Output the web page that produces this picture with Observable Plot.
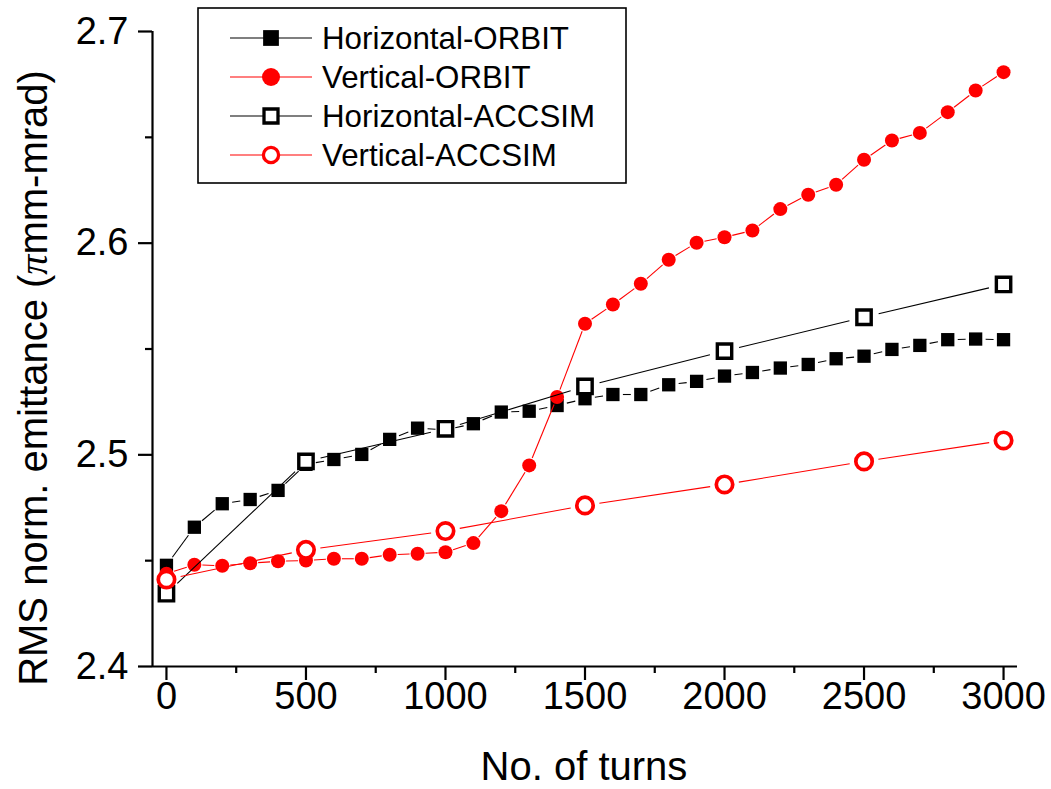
<!DOCTYPE html>
<html><head><meta charset="utf-8">
<script src="https://cdn.jsdelivr.net/npm/d3@7"></script>
<script src="https://cdn.jsdelivr.net/npm/@observablehq/plot@0.6"></script>
<style>body{margin:0;background:#fff}</style>
</head><body><div id="chart"></div>
<script>
// ---- data ----
const turnsORBIT = [0,100,200,300,400,500,600,700,800,900,1000,1100,1200,1300,1400,1500,1600,1700,1800,1900,2000,2100,2200,2300,2400,2500,2600,2700,2800,2900,3000];
const horizontalORBIT = [2.4478,2.4658,2.4769,2.4789,2.4832,2.4955,2.4978,2.5002,2.5073,2.5126,2.5118,2.5147,2.5202,2.5206,2.5233,2.5265,2.5285,2.5285,2.5331,2.5347,2.5372,2.5389,2.5410,2.5427,2.5454,2.5466,2.5498,2.5517,2.5544,2.5547,2.5544];
const verticalORBIT = [2.4438,2.4481,2.4476,2.4488,2.4497,2.4501,2.4509,2.4509,2.4528,2.4533,2.4540,2.4583,2.4734,2.4950,2.5273,2.5619,2.5710,2.5808,2.5922,2.6002,2.6028,2.6060,2.6161,2.6229,2.6276,2.6394,2.6485,2.6521,2.6619,2.6721,2.6808];
const turnsACCSIM = [0,500,1000,1500,2000,2500,3000];
const horizontalACCSIM = [2.4344,2.4969,2.5123,2.5323,2.5490,2.5650,2.5805];
const verticalACCSIM = [2.4411,2.4551,2.4640,2.4761,2.4860,2.4969,2.5068];
const seriesNames = ["Horizontal-ORBIT","Vertical-ORBIT","Horizontal-ACCSIM","Vertical-ACCSIM"];
const xTicks = [0,500,1000,1500,2000,2500,3000];
const xMinorTicks = [250,750,1250,1750,2250,2750];
const yTicks = [2.4,2.5,2.6,2.7];
const yMinorTicks = [2.45,2.55,2.65];

// ---- styles ----
const styles = [
  {color:"#000000", symbol:"square", filled:true,  r:7.5, inset:10,  lr:8.9, sw:0},
  {color:"#ff0000", symbol:"circle", filled:true,  r:7,   inset:8,   lr:9,   sw:0},
  {color:"#000000", symbol:"square", filled:false, r:8.1, inset:15,  lr:7.9, sw:3.4},
  {color:"#ff0000", symbol:"circle", filled:false, r:8.2, inset:14.5,lr:7.6, sw:3.7}
];
const seriesData = [
  {turns: turnsORBIT, values: horizontalORBIT},
  {turns: turnsORBIT, values: verticalORBIT},
  {turns: turnsACCSIM, values: horizontalACCSIM},
  {turns: turnsACCSIM, values: verticalACCSIM}
];

const font = "'Liberation Sans', Arial, sans-serif";
const marks = [];
seriesData.forEach((s, i) => {
  const st = styles[i];
  const pts = s.turns.map((t, k) => ({turns: t, value: s.values[k], series: seriesNames[i]}));
  const segs = pts.slice(1).map((p, k) => ({x1: pts[k].turns, y1: pts[k].value, x2: p.turns, y2: p.value}));
  marks.push(Plot.arrow(segs, {x1:"x1", y1:"y1", x2:"x2", y2:"y2", stroke: st.color, strokeWidth: 1.1,
    headLength: 0, insetStart: st.inset, insetEnd: st.inset, strokeLinecap: "butt"}));
  marks.push(Plot.dot(pts, {x:"turns", y:"value", symbol: st.symbol, r: st.r,
    fill: st.filled ? st.color : "#ffffff",
    stroke: st.filled ? "none" : st.color,
    strokeWidth: st.sw}));
});

const chart = Plot.plot({
  width: 1051, height: 789,
  marginLeft: 152, marginRight: 34, marginTop: 31, marginBottom: 123,
  x: {domain: [-50, 3050], label: null},
  y: {domain: [2.4, 2.7], label: null},
  style: {fontFamily: font, background: "#ffffff", color: "#000000"},
  marks: [
    Plot.ruleY([2.4], {strokeWidth: 2.2}),
    Plot.ruleX([-50], {strokeWidth: 2.2}),
    Plot.axisX(xTicks, {tickSize: 14, tickPadding: 2, fontSize: 38, strokeWidth: 2.2, tickFormat: d3.format("d"), label: null}),
    Plot.axisX(xMinorTicks, {tickSize: 7, strokeWidth: 2.2, tickFormat: () => "", label: null}),
    Plot.axisY(yTicks, {tickSize: 14, tickPadding: 10, fontSize: 38, strokeWidth: 2.2, tickFormat: d3.format(".1f"), label: null}),
    Plot.axisY(yMinorTicks, {tickSize: 7, strokeWidth: 2.2, tickFormat: () => "", label: null}),
    ...marks
  ]
});
document.getElementById("chart").appendChild(chart);

const svg = d3.select(chart);
// axis titles
svg.append("text").attr("x", 584).attr("y", 780).attr("text-anchor", "middle")
  .attr("font-family", font).attr("font-size", 40).attr("fill", "#000").text("No. of turns");
const yl = svg.append("text").attr("transform", "translate(47,378) rotate(-90)").attr("text-anchor", "middle")
  .attr("font-family", font).attr("font-size", 40).attr("fill", "#000");
yl.append("tspan").text("RMS norm. emittance (");
yl.append("tspan").attr("font-family", "'Liberation Serif', 'DejaVu Serif', serif").attr("font-style", "italic").text("π");
yl.append("tspan").text("mm-mrad)");

// legend
const lg = svg.append("g");
lg.append("rect").attr("x", 198).attr("y", 8).attr("width", 428).attr("height", 175)
  .attr("fill", "#fff").attr("stroke", "#000").attr("stroke-width", 1.6);
const rowY = [38, 77, 116, 155];
seriesNames.forEach((name, i) => {
  const st = styles[i];
  const y = rowY[i];
  lg.append("line").attr("x1", 230).attr("x2", 312).attr("y1", y).attr("y2", y)
    .attr("stroke", st.color).attr("stroke-width", 1.1);
  const sym = d3.symbol(st.symbol === "square" ? d3.symbolSquare : d3.symbolCircle, Math.PI * st.lr * st.lr);
  lg.append("path").attr("d", sym()).attr("transform", `translate(271,${y})`)
    .attr("fill", st.filled ? st.color : "#fff")
    .attr("stroke", st.filled ? "none" : st.color)
    .attr("stroke-width", st.filled ? 0 : 3.3);
  lg.append("text").attr("x", 322).attr("y", y + 10.8).attr("text-anchor", "start").attr("font-family", font)
    .attr("font-size", 31.3).attr("fill", "#000").text(name);
});
</script>
</body></html>
